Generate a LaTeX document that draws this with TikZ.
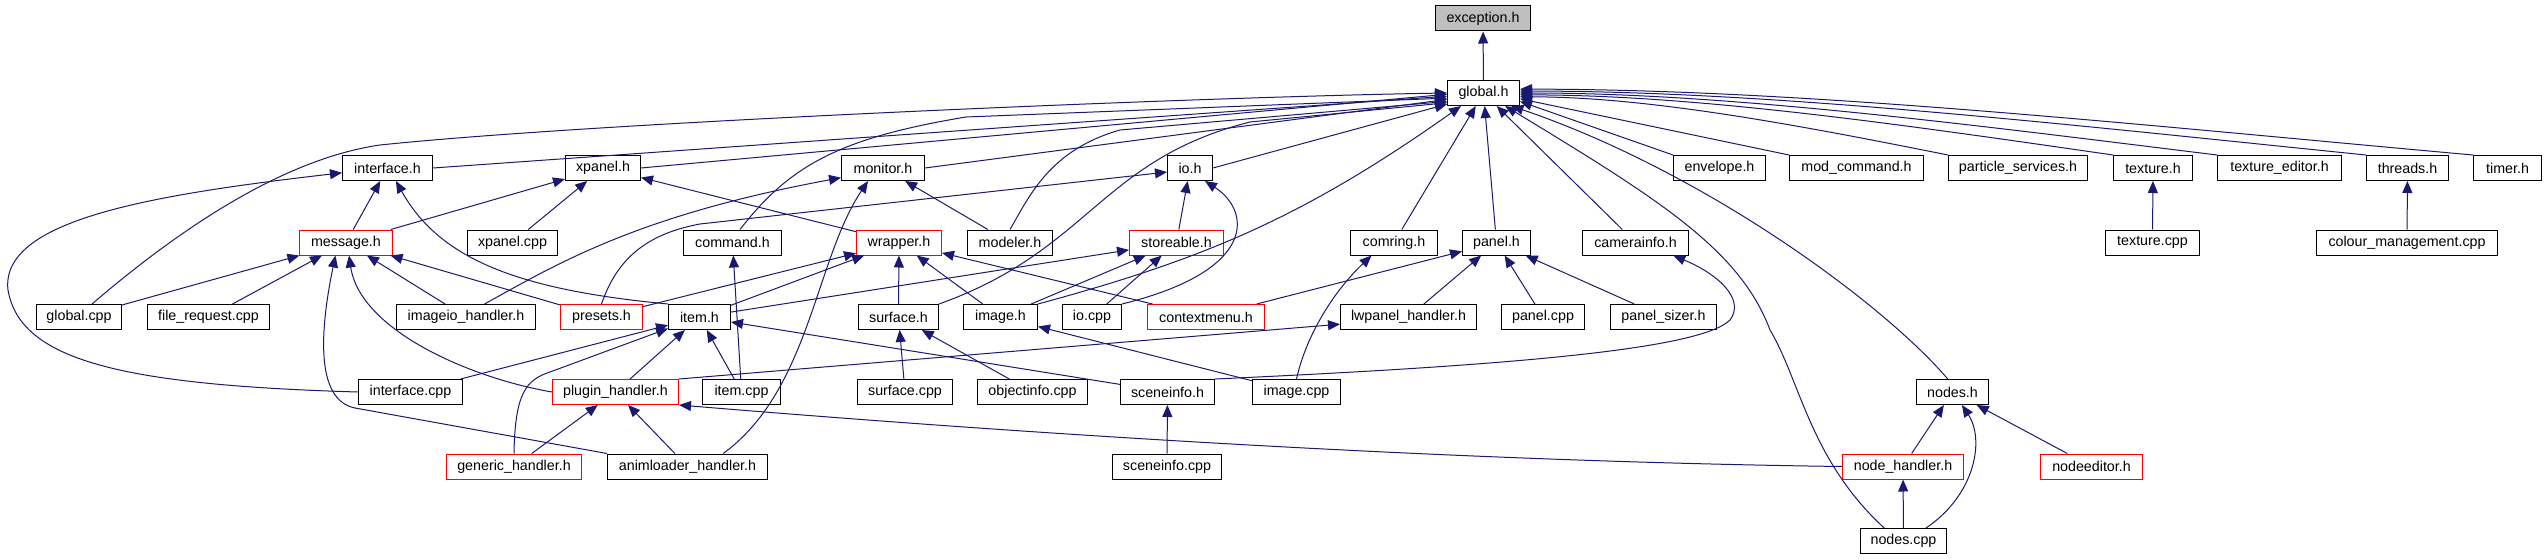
\documentclass[tikz,border=0pt]{standalone}
\usepackage{fontspec}
\setmainfont{Liberation Sans}
\usetikzlibrary{arrows.meta}
\definecolor{midnight}{RGB}{25,25,112}
\definecolor{doxred}{RGB}{255,0,0}
\definecolor{rootgray}{RGB}{191,191,191}
\begin{document}
\begin{tikzpicture}
	[
		x=0.75pt, y=-0.75pt,
		file/.style={draw=black, fill=white, line width=0.75pt, inner sep=0pt,
			minimum height=18.75pt, font=\fontsize{10.7}{12}\selectfont},
		trunc/.style={file, draw=doxred},
		root/.style={file, fill=rootgray},
		wd/.style={minimum width=(#1-1)*0.75pt},
		dep/.style={draw=midnight, line width=0.75pt, -{Triangle[length=9pt,width=7.5pt]}}
	]
	\useasboundingbox (0,0) rectangle (2546,560);
	% Files
	\node[root, wd=96] (exception) at (1483,18.5) {exception.h};
	\foreach \n/\x/\y/\w/\t in {
			global/1483.5/93/73/global.h,
			interface/387.5/168/91/interface.h, xpanel/603/168/76/xpanel.h,
			monitor/883/168/84/monitor.h, io/1190/168/46/io.h,
			envelope/1719.5/168/93/envelope.h, modcmd/1856.5/168/135/mod\_command.h,
			particle/2018/168/140/particle\_services.h, texture/2153/168/80/texture.h,
			texedit/2279.5/168/125/texture\_editor.h, threads/2407.5/168/83/threads.h,
			timer/2507.5/168/69/timer.h,
			xpanelcpp/512.5/242.5/91/xpanel.cpp, command/732.5/242.5/99/command.h,
			modeler/1010/242.5/86/modeler.h, comring/1394/242.5/88/comring.h,
			panel/1496.5/242.5/69/panel.h, camerainfo/1635.5/242.5/107/camerainfo.h,
			texturecpp/2152.5/242.5/95/texture.cpp, colour/2407/242.5/182/colour\_management.cpp,
			globalcpp/79/317/86/global.cpp, filereq/208.5/317/123/file\_request.cpp,
			imageio/466/317/140/imageio\_handler.h, item/699.5/317/63/item.h,
			surface/898.5/317/81/surface.h, image/1000.5/317/75/image.h,
			iocpp/1092/317/60/io.cpp, lwpanel/1408.5/317/137/lwpanel\_handler.h,
			panelcpp/1543/317/84/panel.cpp, panelsizer/1663.5/317/107/panel\_sizer.h,
			interfacecpp/410.5/392/105/interface.cpp, itemcpp/741.5/392/79/item.cpp,
			surfacecpp/905/392/96/surface.cpp, objectinfo/1032.5/392/111/objectinfo.cpp,
			sceneinfo/1167.5/392/95/sceneinfo.h, imagecpp/1296.5/392/89/image.cpp,
			nodes/1952.5/392/73/nodes.h,
			animloader/687.5/466.5/161/animloader\_handler.h,
			sceneinfocpp/1167/466.5/110/sceneinfo.cpp,
			nodescpp/1903.5/541/87/nodes.cpp} {
			\node[file, wd=\w] (\n) at (\x,\y) {\t};
		}
	% Truncated files
	\foreach \n/\x/\y/\w/\t in {
			message/346/242.5/94/message.h, wrapper/899/242.5/86/wrapper.h,
			storeable/1176.5/242.5/95/storeable.h, presets/601.5/317/83/presets.h,
			contextmenu/1206/317/118/contextmenu.h, plugin/615.5/392/127/plugin\_handler.h,
			generic/514/466.5/136/generic\_handler.h, nodehandler/1903/466.5/122/node\_handler.h,
			nodeeditor/2091.5/466.5/103/nodeeditor.h} {
			\node[trunc, wd=\w] (\n) at (\x,\y) {\t};
		}
	% Straight includes
	\foreach \a/\b in {global/exception, message/interface, message/xpanel,
			xpanelcpp/xpanel, wrapper/xpanel, globalcpp/message, filereq/message,
			imageio/message, presets/message, modeler/monitor, storeable/io,
			presets/wrapper, item/wrapper, surface/wrapper, image/wrapper,
			contextmenu/wrapper, item/storeable, image/storeable, iocpp/storeable,
			itemcpp/command, itemcpp/item, plugin/item, interfacecpp/item,
			sceneinfo/item, generic/plugin, animloader/plugin, contextmenu/panel,
			lwpanel/panel, panelcpp/panel, panelsizer/panel, imagecpp/image,
			sceneinfocpp/sceneinfo, surfacecpp/surface, objectinfo/surface,
			texturecpp/texture, colour/threads, nodehandler/nodes,
			nodescpp/nodehandler, nodeeditor/nodes, comring/global, panel/global,
			camerainfo/global} {
			\draw[dep] (\a) -- (\b);
		}
	\draw[dep] (interface.east) -- (global.185);
	\draw[dep] (xpanel.east) -- (global.182);
	\draw[dep] (monitor.east) -- (global.190);
	\draw[dep] (io.east) -- (global.197);
	\draw[dep] (envelope.north west) -- (global.-13);
	\draw[dep] (modcmd.north west) -- (global.-9);
	\draw[dep] (plugin.north east) -- (lwpanel.186);
	% Right fan into global.h
	\foreach \n/\a/\p/\q in {particle/-6/-150/128, texture/-3/-208/178,
			texedit/0/-244/209, threads/3/-296/254, timer/6/-334/286} {
			\draw[dep] (\n.north west) .. controls +(\p,-30) and +(\q,0) .. (global.\a);
		}
	% Curved includes
	\draw[dep] (globalcpp.45) .. controls (190,220) and (290,158) .. (380,145)
		.. controls (600,122) and (1200,97) .. (global.180);
	\draw[dep] (command.60) .. controls (790,165) and (840,138) .. (966,117) -- (global.188);
	\draw[dep] (modeler.north) .. controls (1030,195) and (1050,150) .. (1120,130) -- (global.193);
	\draw[dep] (surface.north east) .. controls (1090,250) and (1100,160) .. (1250,122) -- (global.195);
	\draw[dep] (image.north east) .. controls (1200,260) and (1300,220) .. (global.210);
	\draw[dep] (nodescpp.146) .. controls (1810,460) and (1800,380) .. (1770,330)
		.. controls (1740,250) and (1660,200) .. (global.-31);
	\draw[dep] (nodes.110) .. controls (1880,300) and (1700,170) .. (global.-25);
	\draw[dep] (interfacecpp.west) .. controls (120,385) and (20,360) .. (8,290)
		.. controls (0,220) and (150,195) .. (interface.186);
	\draw[dep] (item.north west) .. controls (520,290) and (440,260) .. (interface.-57);
	\draw[dep] (animloader.north west) -- (355,408) .. controls (315,400) and (320,330) .. (message.-129);
	\draw[dep] (plugin.west) .. controls (470,378) and (360,330) .. (message.-77);
	\draw[dep] (imageio.35) .. controls (560,262) and (640,215) .. (monitor.193);
	\draw[dep] (animloader.20) .. controls (810,390) and (815,260) .. (monitor.-139);
	\draw[dep] (presets.north) .. controls (615,265) and (640,235) .. (700,224) -- (io.190);
	\draw[dep] (iocpp.north east) .. controls (1260,270) and (1250,210) .. (io.-41);
	\draw[dep] (generic.north) .. controls (515,395) and (525,380) .. (550,372) -- (item.200);
	\draw[dep] (nodehandler.west) .. controls (1500,462) and (1100,440) .. (plugin.south east);
	\draw[dep] (imagecpp.north) .. controls (1305,340) and (1330,295) .. (comring.-150);
	\draw[dep] (sceneinfo.north east) .. controls (1500,366) and (1700,350) .. (1730,320)
		.. controls (1745,300) and (1720,275) .. (camerainfo.-19);
	\draw[dep] (nodescpp.30) .. controls (1975,495) and (1985,440) .. (nodes.-54);
\end{tikzpicture}
\end{document}
